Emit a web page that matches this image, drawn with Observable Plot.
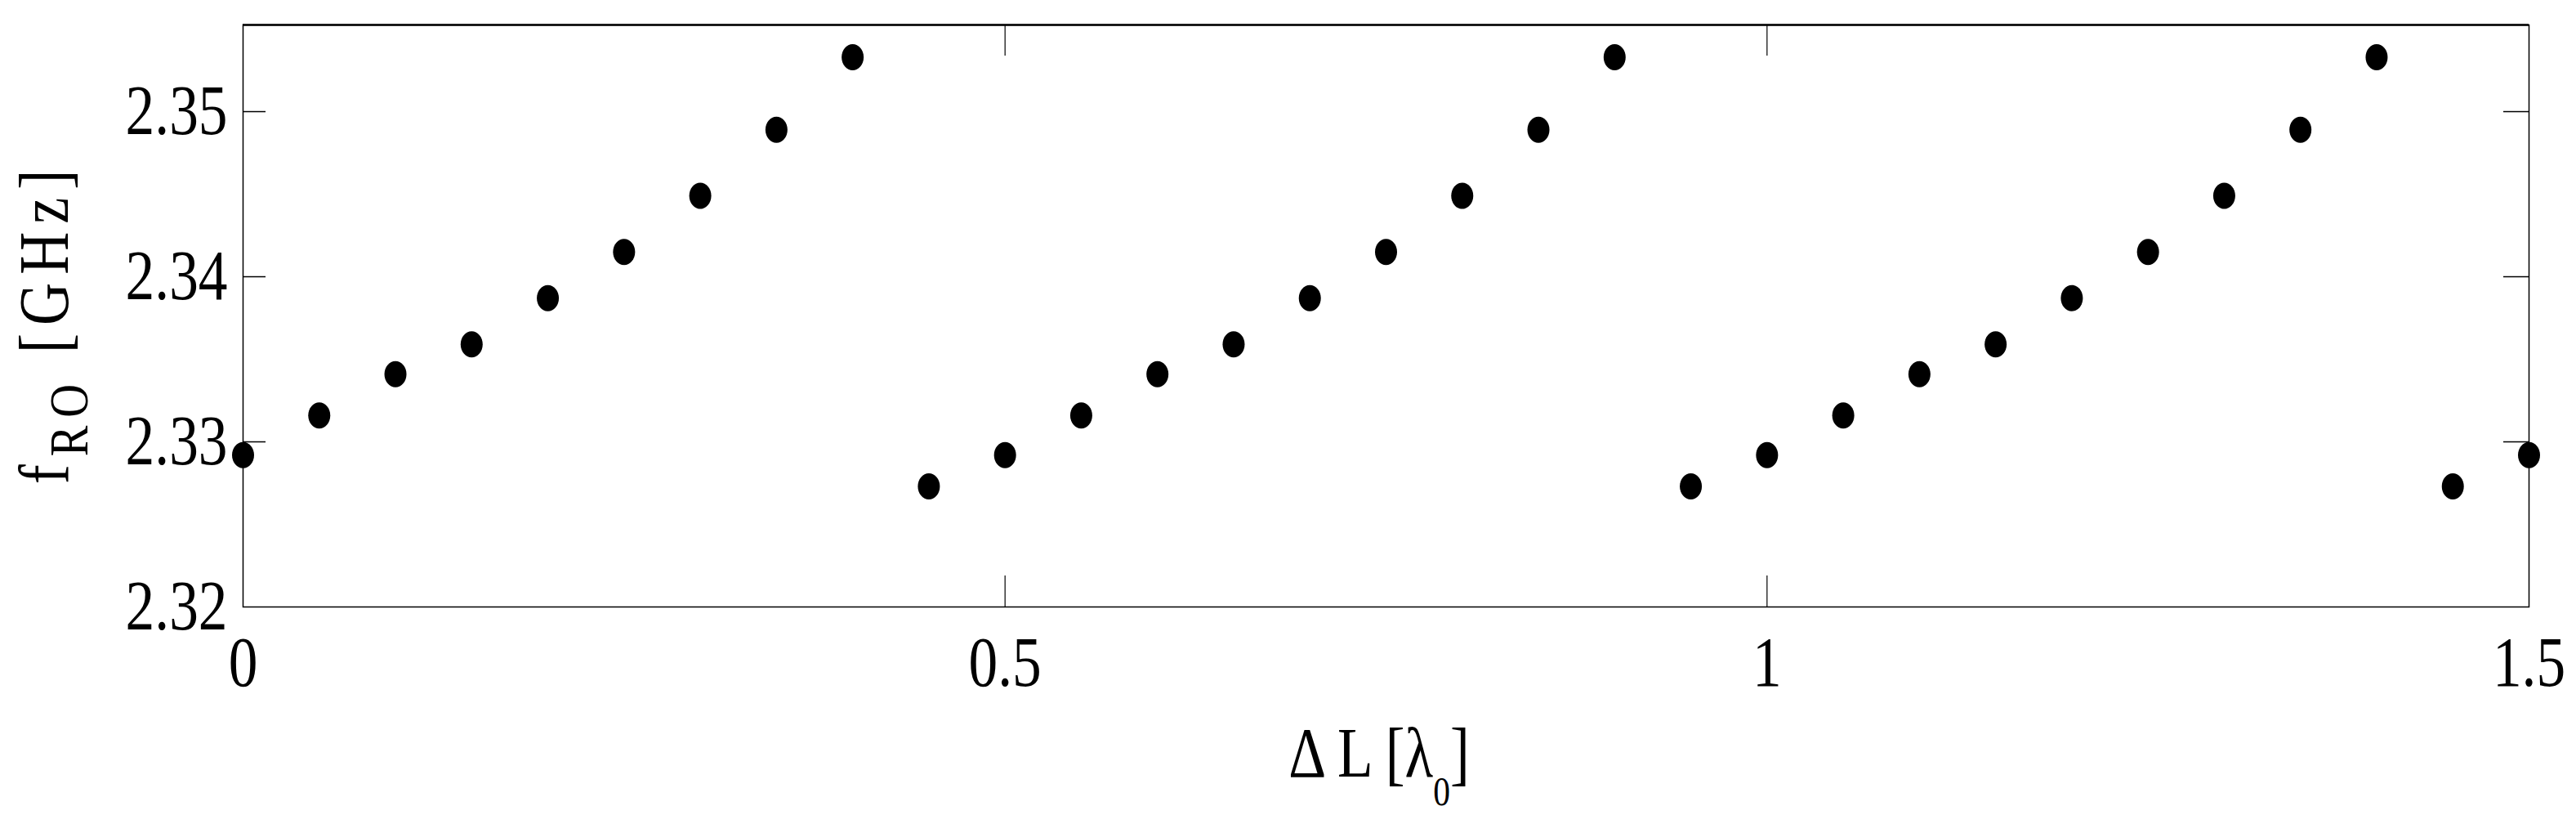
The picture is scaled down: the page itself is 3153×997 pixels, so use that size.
<!DOCTYPE html>
<html>
<head>
<meta charset="utf-8">
<script src="https://cdn.jsdelivr.net/npm/d3@7"></script>
<script src="https://cdn.jsdelivr.net/npm/@observablehq/plot@0.6"></script>
<style>
  html, body { margin: 0; padding: 0; background: #fff; }
  #chart svg { display: block; }
</style>
</head>
<body>
<div id="chart"></div>
<script>
// ---- data ----
const deltaL = [0, 0.05, 0.1, 0.15, 0.2, 0.25, 0.3, 0.35, 0.4, 0.45,
                0.5, 0.55, 0.6, 0.65, 0.7, 0.75, 0.8, 0.85, 0.9, 0.95,
                1.0, 1.05, 1.1, 1.15, 1.2, 1.25, 1.3, 1.35, 1.4, 1.45, 1.5];
const fRO = [2.3292, 2.3316, 2.3341, 2.3359, 2.3387, 2.3415, 2.3449, 2.3489, 2.3533, 2.3273,
             2.3292, 2.3316, 2.3341, 2.3359, 2.3387, 2.3415, 2.3449, 2.3489, 2.3533, 2.3273,
             2.3292, 2.3316, 2.3341, 2.3359, 2.3387, 2.3415, 2.3449, 2.3489, 2.3533, 2.3273,
             2.3292];
const xTickValues = [0, 0.5, 1, 1.5];
const yTickValues = [2.32, 2.33, 2.34, 2.35];
const xInnerTicks = [0.5, 1];
const yInnerTicks = [2.33, 2.34, 2.35];
const xDomain = [0, 1.5];
const yDomain = [2.32, 2.35525];

const points = deltaL.map((x, i) => ({x, y: fRO[i]}));

// ---- layout ----
const W = 3153, H = 997;
const mL = 297, mR = 58, mT = 30, mB = 255;
const plotW = W - mL - mR, plotH = H - mT - mB;
const FONT = "'Liberation Serif', 'Times New Roman', serif";
const SQUEEZE = 0.83;

const ellipse = {
  draw(ctx, size) {
    const r = Math.sqrt(size / Math.PI);
    const ry = r, rx = r * 27 / 32, k = 0.5522848;
    ctx.moveTo(rx, 0);
    ctx.bezierCurveTo(rx, ry * k, rx * k, ry, 0, ry);
    ctx.bezierCurveTo(-rx * k, ry, -rx, ry * k, -rx, 0);
    ctx.bezierCurveTo(-rx, -ry * k, -rx * k, -ry, 0, -ry);
    ctx.bezierCurveTo(rx * k, -ry, rx, -ry * k, rx, 0);
    ctx.closePath();
  }
};

const chart = Plot.plot({
  width: W, height: H,
  marginLeft: mL, marginRight: mR, marginTop: mT, marginBottom: mB,
  style: {fontFamily: FONT, fontSize: "86px", color: "#000", background: "#fff"},
  x: {domain: xDomain, axis: null},
  y: {domain: yDomain, axis: null},
  marks: [
    Plot.frame({stroke: "#000", strokeWidth: 1.5}),
    Plot.ruleY([yDomain[1]], {stroke: "#000", strokeWidth: 2.5}),
    Plot.tickX(xInnerTicks, {x: d => d, stroke: "#000", strokeWidth: 1.2, insetTop: plotH - 38}),
    Plot.tickX(xInnerTicks, {x: d => d, stroke: "#000", strokeWidth: 1.2, insetBottom: plotH - 38}),
    Plot.tickY(yInnerTicks, {y: d => d, stroke: "#000", strokeWidth: 1.5, insetRight: plotW - 28}),
    Plot.tickY(yInnerTicks, {y: d => d, stroke: "#000", strokeWidth: 1.5, insetLeft: plotW - 31}),
    Plot.axisX({ticks: xTickValues, tickSize: 0, tickPadding: 35, tickFormat: d => String(d),
                label: null, fontSize: 86, fill: "#000"}),
    Plot.axisY({ticks: yTickValues, tickSize: 0, tickPadding: 19, tickFormat: d3.format(".2f"),
                label: null, fontSize: 86, fill: "#000"}),
    Plot.dot(points, {x: "x", y: "y", r: 16, symbol: ellipse, fill: "#000", stroke: "none"})
  ]
});

// squeeze tick labels horizontally to match the condensed serif look
chart.querySelectorAll('g[aria-label$="tick label"] text').forEach(t => {
  const tr = t.getAttribute("transform");
  if (tr) {
    t.setAttribute("transform", tr + ` scale(${SQUEEZE},1)`);
  } else {
    const x = +t.getAttribute("x") || 0, y = +t.getAttribute("y") || 0;
    t.removeAttribute("x"); t.removeAttribute("y");
    t.setAttribute("transform", `translate(${x},${y}) scale(${SQUEEZE},1)`);
  }
});

// axis titles with subscripts
const svg = d3.select(chart);
const xl = svg.append("text")
  .attr("transform", `translate(${mL + plotW / 2 - 8},950) scale(${SQUEEZE},1)`)
  .attr("text-anchor", "middle")
  .attr("font-family", FONT).attr("font-size", 86).attr("fill", "#000");
xl.append("tspan").text("\u0394 L [\u03bb");
xl.append("tspan").attr("font-size", 50).attr("dy", 35).text("0");
xl.append("tspan").attr("dy", -35).text("]");

const yl = svg.append("text")
  .attr("transform", `translate(83,395) rotate(-90) scale(${SQUEEZE},1)`)
  .attr("text-anchor", "middle")
  .attr("letter-spacing", 12)
  .attr("font-family", FONT).attr("font-size", 87).attr("fill", "#000");
yl.append("tspan").text("f");
yl.append("tspan").attr("font-size", 68).attr("dy", 24).text("RO");
yl.append("tspan").attr("dy", -24).text("\u00a0[GHz]");

document.getElementById("chart").appendChild(chart);
</script>
</body>
</html>
